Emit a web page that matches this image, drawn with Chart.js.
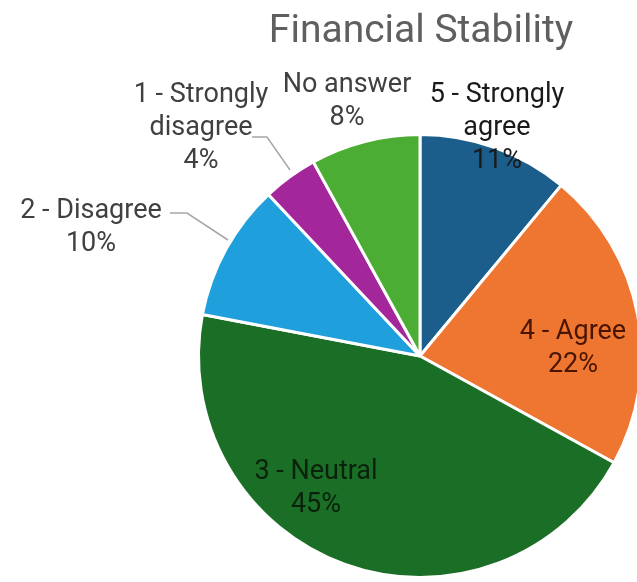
<!DOCTYPE html>
<html>
<head>
<meta charset="utf-8">
<script src="https://cdn.jsdelivr.net/npm/chart.js@4"></script>
<style>
  html, body { margin: 0; padding: 0; background: #fff; overflow: hidden; }
  #wrap { position: absolute; left: 0; top: 0; width: 680px; height: 582px; }
</style>
</head>
<body>
<div id="wrap"><canvas id="chart"></canvas></div>
<script>
const labels = ['5 - Strongly agree', '4 - Agree', '3 - Neutral', '2 - Disagree', '1 - Strongly disagree', 'No answer'];
const values = [11, 22, 45, 10, 4, 8];
const colors = ['#1b5e8c', '#ee7630', '#1b6e25', '#1f9fdb', '#a3279b', '#4cad35'];

// label text lines, position and colour for each slice
const labelLines = [
  ['5 - Strongly', 'agree', '11%'],
  ['4 - Agree', '22%'],
  ['3 - Neutral', '45%'],
  ['2 - Disagree', '10%'],
  ['1 - Strongly', 'disagree', '4%'],
  ['No answer', '8%']
];
const labelPos = [[497, 95], [573, 332], [316, 472], [91, 211], [201, 95], [347, 85]];
const labelColor = ['#1a1a1a', '#4a1500', '#0a220c', '#404040', '#404040', '#404040'];

const labelPlugin = {
  id: 'labelPlugin',
  afterDraw(chart) {
    const ctx = chart.ctx;
    ctx.save();
    // title
    ctx.fillStyle = '#5f5f5f';
    ctx.font = '39px Roboto';
    ctx.textAlign = 'center';
    ctx.textBaseline = 'alphabetic';
    ctx.fillText('Financial Stability', 421, 42);

    // leader lines
    ctx.strokeStyle = '#a6a6a6';
    ctx.lineWidth = 1.5;
    ctx.beginPath();
    ctx.moveTo(252, 137); ctx.lineTo(267, 137); ctx.lineTo(290, 170);
    ctx.moveTo(170, 213); ctx.lineTo(187, 213); ctx.lineTo(228, 240);
    ctx.stroke();

    ctx.textBaseline = 'middle';
    ctx.font = '27px Roboto';
    labelLines.forEach((lines, i) => {
      ctx.fillStyle = labelColor[i];
      lines.forEach((t, j) => {
        ctx.fillText(t, labelPos[i][0], labelPos[i][1] + j * 33);
      });
    });
    ctx.restore();
  }
};

new Chart(document.getElementById('chart'), {
  type: 'pie',
  data: {
    labels: labels,
    datasets: [{
      data: values,
      backgroundColor: colors,
      borderColor: '#ffffff',
      borderWidth: 3
    }]
  },
  options: {
    responsive: true,
    maintainAspectRatio: false,
    animation: false,
    layout: { padding: { left: 197, top: 133, right: 37, bottom: 3 } },
    plugins: {
      legend: { display: false },
      tooltip: { enabled: false }
    }
  },
  plugins: [labelPlugin]
});
</script>
</body>
</html>
